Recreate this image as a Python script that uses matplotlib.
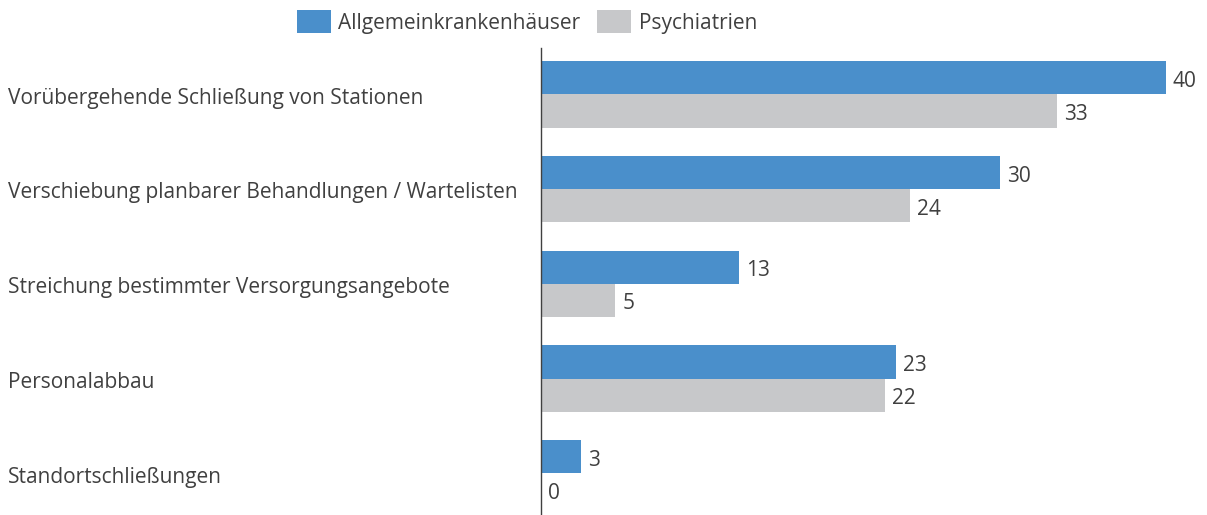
import numpy as np
import matplotlib.pyplot as plt
import matplotlib.transforms as mtransforms

plt.rcParams['font.family'] = ['Open Sans', 'DejaVu Sans']

categories = ['Vorübergehende Schließung von Stationen',
              'Verschiebung planbarer Behandlungen / Wartelisten',
              'Streichung bestimmter Versorgungsangebote',
              'Personalabbau',
              'Standortschließungen']
# bar lengths, labels show rounded values
allgemein = [40.3, 29.6, 12.8, 22.9, 2.6]
psych = [33.3, 23.8, 4.8, 22.2, 0.0]
series_names = ['Allgemeinkrankenhäuser', 'Psychiatrien']

blue = '#4A8FCB'
grey = '#C7C8CA'
txt = '#404040'
fs = 15

fig = plt.figure(figsize=(12.07, 5.15), dpi=100)
ax = fig.add_axes([541/1207, 0, 659/1207, 1 - 48/515])

y = np.arange(len(categories))
h = 0.35
b1 = ax.barh(y - h/2, allgemein, height=h, color=blue, label=series_names[0])
b2 = ax.barh(y + h/2, psych, height=h, color=grey, label=series_names[1])

for bars, vals in [(b1, allgemein), (b2, psych)]:
    for rect, v in zip(bars, vals):
        ax.annotate('%d' % round(v), (v, rect.get_y() + rect.get_height()/2),
                    xytext=(5, -2.5), textcoords='offset points',
                    va='center', ha='left', fontsize=fs, color=txt)

ax.set_xlim(0, 42.5)
ax.set_ylim(4.44, -0.49)
ax.set_xticks([])
ax.set_yticks([])
for s in ['top', 'right', 'bottom']:
    ax.spines[s].set_visible(False)
ax.spines['left'].set_color('#404040')
ax.spines['left'].set_linewidth(1.0)

trans = mtransforms.blended_transform_factory(fig.transFigure, ax.transData)
for i, c in enumerate(categories):
    ax.text(8/1207, i + 0.04, c, transform=trans, fontsize=fs, color=txt,
            va='center', ha='left')

fig.legend(handles=[b1, b2], labels=series_names, loc='center',
           bbox_to_anchor=(527/1207, 1 - 22/515), ncol=2, frameon=False,
           fontsize=fs, labelcolor=txt, handlelength=1.63, handleheight=1.25,
           handletextpad=0.38, columnspacing=0.8, borderpad=0)

plt.savefig('out.png')
